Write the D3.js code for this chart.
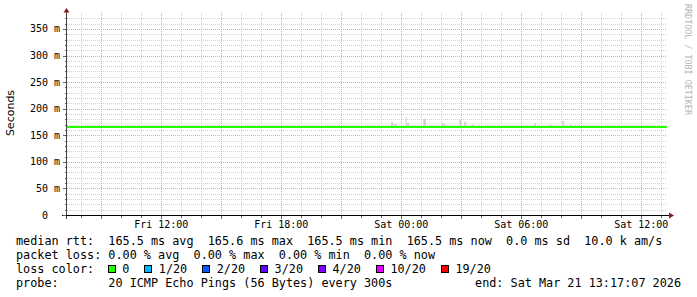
<!DOCTYPE html>
<html>
<head>
<meta charset="utf-8">
<script src="https://cdn.jsdelivr.net/npm/d3@7"></script>
<style>
  body { margin: 0; background: #fff; }
  text { font-family: "DejaVu Sans Mono", monospace; }
</style>
</head>
<body>
<svg id="chart" width="697" height="297"></svg>
<script>
// données (heure UTC)
const startTime = "2026-03-20T07:17:07Z";
const endTime = "2026-03-21T13:17:07Z";

// médiane rtt (ms) - plate sur toute la période
const rttTimes = ["2026-03-20T07:17:07Z", "2026-03-20T13:17Z", "2026-03-20T19:17Z", "2026-03-21T01:17Z", "2026-03-21T07:17Z", "2026-03-21T13:17:07Z"];
const rttValues = [165.5, 165.5, 165.5, 165.5, 165.5, 165.5];

// fumée (valeurs max des pings, ms)
const smokeStart = ["2026-03-20T23:29Z", "2026-03-20T23:35Z", "2026-03-21T00:13Z", "2026-03-21T00:16Z", "2026-03-21T01:06Z", "2026-03-21T02:01Z", "2026-03-21T02:08Z", "2026-03-21T02:54Z", "2026-03-21T03:08Z", "2026-03-21T03:31Z", "2026-03-21T06:39Z", "2026-03-21T07:26Z", "2026-03-21T08:03Z", "2026-03-21T08:26Z"];
const smokeEnd = ["2026-03-20T23:35Z", "2026-03-20T23:47Z", "2026-03-21T00:16Z", "2026-03-21T00:24Z", "2026-03-21T01:14Z", "2026-03-21T02:08Z", "2026-03-21T02:14Z", "2026-03-21T03:00Z", "2026-03-21T03:16Z", "2026-03-21T03:38Z", "2026-03-21T06:44Z", "2026-03-21T07:30Z", "2026-03-21T08:09Z", "2026-03-21T08:30Z"];
const smokeMax = [175, 171, 184, 173, 181, 173, 171, 179, 175, 171, 173, 171, 177, 171];

const yTicks = [0, 50, 100, 150, 200, 250, 300, 350];
const yTickLabels = ["0  ", "50 m", "100 m", "150 m", "200 m", "250 m", "300 m", "350 m"];

const lossLabels = ["0", "1/20", "2/20", "3/20", "4/20", "10/20", "19/20"];
const lossColors = ["#26ff00", "#00b8ff", "#0059ff", "#5e00ff", "#7e00ff", "#dd00ff", "#ff0000"];

const legendLines = [
  "median rtt:  165.5 ms avg  165.6 ms max  165.5 ms min  165.5 ms now  0.0 ms sd  10.0 k am/s",
  "packet loss: 0.00 % avg  0.00 % max  0.00 % min  0.00 % now"
];
const probeText = "probe:       20 ICMP Echo Pings (56 Bytes) every 300s";
const endText = "end: Sat Mar 21 13:17:07 2026";

// mise en page
const plotLeft = 67, plotRight = 667, plotTop = 13, plotBottom = 215;
const charW = 7.1;

const svg = d3.select("#chart");

const x = d3.scaleUtc()
  .domain([new Date(startTime), new Date(endTime)])
  .range([plotLeft, plotRight]);
const y = d3.scaleLinear()
  .domain([0, 380])
  .range([plotBottom, plotTop]);

// grille
const grid = svg.append("g").attr("shape-rendering", "crispEdges");
const minorY = d3.range(10, 380, 10).filter(v => v % 50 != 0);
grid.selectAll(".hmin").data(minorY).enter().append("line")
  .attr("x1", plotLeft).attr("x2", plotRight)
  .attr("y1", d => Math.round(y(d)) + 0.5).attr("y2", d => Math.round(y(d)) + 0.5)
  .attr("stroke", "#cfcfcf").attr("stroke-dasharray", "1,1");
const hours = d3.utcHour.range(x.domain()[0], x.domain()[1]);
grid.selectAll(".vmin").data(hours.filter(h => h.getUTCHours() % 3 != 0)).enter().append("line")
  .attr("x1", d => Math.round(x(d)) + 0.5).attr("x2", d => Math.round(x(d)) + 0.5)
  .attr("y1", plotTop).attr("y2", plotBottom)
  .attr("stroke", "#cfcfcf").attr("stroke-dasharray", "1,1");
grid.selectAll(".hmaj").data(yTicks.slice(1)).enter().append("line")
  .attr("x1", plotLeft).attr("x2", plotRight)
  .attr("y1", d => Math.round(y(d)) + 0.5).attr("y2", d => Math.round(y(d)) + 0.5)
  .attr("stroke", "#eea0a0").attr("stroke-dasharray", "1,1");
grid.selectAll(".vmaj").data(hours.filter(h => h.getUTCHours() % 3 == 0)).enter().append("line")
  .attr("x1", d => Math.round(x(d)) + 0.5).attr("x2", d => Math.round(x(d)) + 0.5)
  .attr("y1", plotTop).attr("y2", plotBottom)
  .attr("stroke", "#eea0a0").attr("stroke-dasharray", "1,1");

// fumée
svg.append("g").selectAll("rect").data(smokeMax).enter().append("rect")
  .attr("x", (d, i) => x(new Date(smokeStart[i])))
  .attr("width", (d, i) => x(new Date(smokeEnd[i])) - x(new Date(smokeStart[i])))
  .attr("y", d => y(d))
  .attr("height", d => y(165.5) - y(d))
  .attr("fill", "#d2d2d2");

// ligne médiane
const line = d3.line()
  .x((d, i) => x(new Date(rttTimes[i])))
  .y(d => y(d));
svg.append("path")
  .datum(rttValues)
  .attr("d", line)
  .attr("fill", "none")
  .attr("stroke", "#26ff00")
  .attr("stroke-width", 2);

// axes
const ax = svg.append("g").attr("shape-rendering", "crispEdges");
ax.append("line").attr("x1", 66.5).attr("x2", 66.5).attr("y1", 12).attr("y2", 219).attr("stroke", "#444");
ax.append("line").attr("x1", 62).attr("x2", 670).attr("y1", 215.5).attr("y2", 215.5).attr("stroke", "#000");
ax.selectAll(".ytk").data(d3.range(0, 380, 10)).enter().append("line")
  .attr("x1", d => d % 50 == 0 ? 63 : 64.5).attr("x2", 66)
  .attr("y1", d => Math.round(y(d)) + 0.5).attr("y2", d => Math.round(y(d)) + 0.5)
  .attr("stroke", "#666");
ax.selectAll(".xtk").data(hours).enter().append("line")
  .attr("x1", d => Math.round(x(d)) + 0.5).attr("x2", d => Math.round(x(d)) + 0.5)
  .attr("y1", 216).attr("y2", d => d.getUTCHours() % 3 == 0 ? 219 : 218)
  .attr("stroke", "#666");

// flèches
svg.append("path").attr("d", "M63.5,12.5 L66.5,8 L69.5,12.5 Z").attr("fill", "#8b1a1a");
svg.append("path").attr("d", "M669,212.5 L674,215.5 L669,218.5 Z").attr("fill", "#8b1a1a");

// étiquettes Y
svg.append("g").selectAll("text").data(yTicks).enter().append("text")
  .attr("x", 60).attr("y", d => y(d) + 3.5)
  .attr("text-anchor", "end")
  .style("white-space", "pre")
  .attr("font-size", "10px")
  .text((d, i) => yTickLabels[i]);

// étiquettes X
const fmt = d3.utcFormat("%a %H:%M");
svg.append("g").selectAll("text").data(hours.filter(h => h.getUTCHours() % 6 == 0)).enter().append("text")
  .attr("x", d => x(d)).attr("y", 228)
  .attr("text-anchor", "middle")
  .attr("font-size", "10px")
  .text(d => fmt(d));

// titres
svg.append("text")
  .attr("transform", "translate(14,113) rotate(-90)")
  .attr("text-anchor", "middle")
  .style("font-family", "'DejaVu Sans', sans-serif")
  .attr("font-size", "11px")
  .text("Seconds");
svg.append("text")
  .attr("transform", "translate(685,4) rotate(90)")
  .attr("font-size", "8.4px")
  .attr("fill", "#b4b4b4")
  .text("RRDTOOL / TOBI OETIKER");

// légende
svg.selectAll(".leg").data(legendLines).enter().append("text")
  .attr("x", 16).attr("y", (d, i) => 245 + i * 14)
  .attr("font-size", "11.8px")
  .style("white-space", "pre")
  .text(d => d);

svg.append("text").attr("x", 16).attr("y", 273).attr("font-size", "11.8px").text("loss color:");
let bx = 16 + 13 * charW - 0.6;
lossLabels.forEach(function(lab, i) {
  svg.append("rect")
    .attr("x", Math.round(bx) + 0.5).attr("y", 265.5)
    .attr("width", 7).attr("height", 7)
    .attr("fill", lossColors[i]).attr("stroke", "#000");
  svg.append("text").attr("x", bx + 14.5).attr("y", 273).attr("font-size", "11.8px").text(lab);
  bx = bx + 14.5 + lab.length * charW + 15;
});

svg.append("text").attr("x", 16).attr("y", 287).attr("font-size", "11.8px")
  .style("white-space", "pre").text(probeText);
svg.append("text").attr("x", 681).attr("y", 287).attr("font-size", "11.8px")
  .attr("text-anchor", "end").text(endText);
</script>
</body>
</html>
